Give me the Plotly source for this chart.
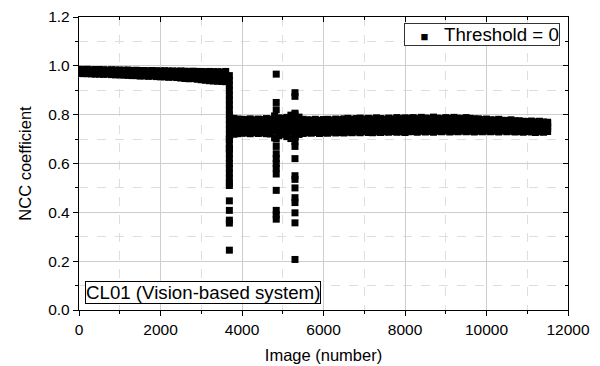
import plotly.graph_objects as go

# ---------------- data ----------------
# Segment 1: images 0..3600 (step 100), NCC band before the change
band1_x = list(range(0, 3700, 100))
band1_hi = [0.986, 0.985, 0.986, 0.984, 0.985, 0.985, 0.984, 0.983, 0.984, 0.983,
            0.983, 0.982, 0.983, 0.981, 0.982, 0.981, 0.981, 0.980, 0.981, 0.980,
            0.979, 0.980, 0.979, 0.979, 0.978, 0.979, 0.978, 0.977, 0.978, 0.977,
            0.977, 0.976, 0.977, 0.976, 0.976, 0.975, 0.977]
band1_mid = [0.978, 0.977, 0.977, 0.976, 0.976, 0.976, 0.975, 0.975, 0.974, 0.974,
             0.973, 0.973, 0.972, 0.971, 0.971, 0.970, 0.970, 0.969, 0.969, 0.968,
             0.968, 0.967, 0.967, 0.966, 0.966, 0.965, 0.964, 0.963, 0.963, 0.962,
             0.961, 0.960, 0.959, 0.958, 0.958, 0.957, 0.957]
band1_lo = [0.969, 0.968, 0.968, 0.967, 0.966, 0.966, 0.965, 0.966, 0.964, 0.963,
            0.963, 0.962, 0.961, 0.960, 0.960, 0.958, 0.959, 0.957, 0.958, 0.956,
            0.955, 0.955, 0.953, 0.954, 0.952, 0.950, 0.948, 0.947, 0.948, 0.945,
            0.943, 0.941, 0.939, 0.938, 0.937, 0.936, 0.935]

# Segment 2: images 3700..11500 (step 100)
band2_x = list(range(3700, 11600, 100))
band2_hi = [0.788, 0.785, 0.782, 0.781,
            0.780, 0.783, 0.779, 0.782, 0.780, 0.784, 0.782,
            0.795, 0.787, 0.785, 0.789, 0.798, 0.806, 0.790,
            0.781, 0.779, 0.778, 0.781, 0.777, 0.780, 0.781, 0.778, 0.782, 0.780,
            0.783, 0.785, 0.781, 0.784, 0.786, 0.782, 0.785, 0.783, 0.787, 0.784,
            0.782, 0.786, 0.783, 0.788, 0.784, 0.787,
            0.785, 0.788, 0.784, 0.789, 0.786, 0.785, 0.790, 0.786, 0.784, 0.788,
            0.785, 0.789, 0.786, 0.784, 0.788, 0.785, 0.783,
            0.783, 0.780, 0.782, 0.779, 0.778, 0.781, 0.777, 0.776, 0.779, 0.775,
            0.775, 0.773, 0.772, 0.774, 0.771, 0.773, 0.770, 0.769]
band2_q1 = [0.770, 0.772, 0.769, 0.771,
            0.768, 0.770, 0.769, 0.771, 0.768, 0.770, 0.769,
            0.772, 0.770, 0.768, 0.771, 0.773, 0.775, 0.770,
            0.768, 0.767, 0.766, 0.768, 0.765, 0.767, 0.768, 0.766, 0.769, 0.767,
            0.770, 0.769, 0.771, 0.770, 0.772, 0.770, 0.771, 0.769, 0.772, 0.771,
            0.770, 0.772, 0.771, 0.773, 0.771, 0.772,
            0.773, 0.771, 0.774, 0.772, 0.773, 0.775, 0.772, 0.774, 0.773, 0.775,
            0.772, 0.774, 0.773, 0.775, 0.774, 0.772, 0.773,
            0.772, 0.773, 0.770, 0.772, 0.771, 0.769, 0.771, 0.770, 0.768, 0.770,
            0.769, 0.767, 0.768, 0.767, 0.766, 0.766, 0.765, 0.764]
band2_mid = [0.752, 0.756, 0.754, 0.755,
             0.753, 0.755, 0.754, 0.756, 0.753, 0.755, 0.754,
             0.752, 0.756, 0.753, 0.755, 0.752, 0.757, 0.754,
             0.753, 0.755, 0.752, 0.754, 0.753, 0.755, 0.754, 0.752, 0.755, 0.754,
             0.756, 0.754, 0.757, 0.755, 0.758, 0.756, 0.757, 0.755, 0.758, 0.757,
             0.756, 0.758, 0.757, 0.759, 0.757, 0.758,
             0.759, 0.757, 0.760, 0.758, 0.759, 0.761, 0.758, 0.760, 0.759, 0.761,
             0.758, 0.760, 0.759, 0.761, 0.760, 0.758, 0.759,
             0.758, 0.760, 0.757, 0.759, 0.758, 0.756, 0.758, 0.757, 0.755, 0.757,
             0.756, 0.754, 0.756, 0.755, 0.753, 0.754, 0.753, 0.752]
band2_q3 = [0.735, 0.738, 0.739, 0.740,
            0.740, 0.738, 0.741, 0.739, 0.740, 0.738, 0.738,
            0.733, 0.736, 0.738, 0.735, 0.731, 0.734, 0.738,
            0.739, 0.741, 0.739, 0.742, 0.739, 0.741, 0.740, 0.742, 0.740, 0.741,
            0.741, 0.742, 0.741, 0.743, 0.741, 0.744, 0.742, 0.741, 0.743, 0.742,
            0.743, 0.742, 0.744, 0.742, 0.743, 0.742,
            0.744, 0.745, 0.743, 0.746, 0.744, 0.745, 0.743, 0.746, 0.744, 0.746,
            0.744, 0.746, 0.745, 0.746, 0.744, 0.745, 0.744,
            0.745, 0.744, 0.746, 0.744, 0.745, 0.743, 0.746, 0.744, 0.745, 0.743,
            0.744, 0.742, 0.744, 0.743, 0.741, 0.743, 0.742, 0.743]
band2_lo = [0.716, 0.720, 0.722, 0.724,
            0.725, 0.722, 0.726, 0.723, 0.725, 0.722, 0.721,
            0.705, 0.714, 0.718, 0.710, 0.702, 0.708, 0.719,
            0.723, 0.726, 0.724, 0.727, 0.723, 0.726, 0.724, 0.728, 0.725, 0.727,
            0.725, 0.728, 0.726, 0.729, 0.726, 0.730, 0.727, 0.726, 0.729, 0.727,
            0.730, 0.728, 0.731, 0.728, 0.730, 0.727,
            0.730, 0.731, 0.728, 0.732, 0.729, 0.731, 0.728, 0.732, 0.730, 0.733,
            0.729, 0.732, 0.730, 0.733, 0.730, 0.732, 0.729,
            0.732, 0.730, 0.733, 0.730, 0.732, 0.729, 0.733, 0.730, 0.732, 0.729,
            0.731, 0.728, 0.731, 0.729, 0.727, 0.730, 0.728, 0.731]

# Transition drop near image 3700
drop_x = [3690] * 31
drop_y = [0.96, 0.94, 0.92, 0.90, 0.88, 0.86, 0.84, 0.82, 0.80, 0.78,
          0.76, 0.74, 0.72, 0.70, 0.68, 0.66, 0.64, 0.62, 0.60, 0.58,
          0.56, 0.54, 0.52, 0.51, 0.447, 0.408, 0.368, 0.356, 0.245, 0.70, 0.66]

# Outlier spike near image 4840
spike1_x = [4840] * 14
spike1_y = [0.966, 0.85, 0.82, 0.70, 0.67, 0.64, 0.62, 0.60, 0.58, 0.557,
            0.49, 0.408, 0.39, 0.372]

# Outlier spike near image 5300
spike2_x = [5300] * 15
spike2_y = [0.89, 0.875, 0.80, 0.69, 0.67, 0.62, 0.55, 0.535, 0.50, 0.46,
            0.44, 0.398, 0.357, 0.207, 0.71]

x_ticks = [0, 2000, 4000, 6000, 8000, 10000, 12000]
x_minor = [1000, 3000, 5000, 7000, 9000, 11000]
y_ticks = [0.0, 0.2, 0.4, 0.6, 0.8, 1.0, 1.2]
y_minor = [0.1, 0.3, 0.5, 0.7, 0.9, 1.1]

series_name = "Threshold = 0"
annotation_text = "CL01 (Vision-based system)"
x_title = "Image (number)"
y_title = "NCC coefficient"

# ---------------- assemble ----------------
for a in (band1_hi, band1_mid, band1_lo):
    assert len(a) == len(band1_x)
for a in (band2_hi, band2_q1, band2_mid, band2_q3, band2_lo):
    assert len(a) == len(band2_x)

xs, ys = [], []
for row in (band1_hi, band1_mid, band1_lo):
    xs += band1_x
    ys += row
for row in (band2_hi, band2_q1, band2_mid, band2_q3, band2_lo):
    xs += band2_x
    ys += row
xs += drop_x + spike1_x + spike2_x
ys += drop_y + spike1_y + spike2_y

FONT = "Liberation Sans, Arial, sans-serif"

fig = go.Figure()
fig.add_trace(go.Scatter(
    x=xs, y=ys, mode="markers", name=series_name, showlegend=False,
    marker=dict(symbol="square", size=7, color="black", line=dict(width=0)),
))
# empty trace to host the mirrored top/right axes
fig.add_trace(go.Scatter(x=[], y=[], xaxis="x2", yaxis="y2", showlegend=False,
                         hoverinfo="skip"))

grid_major = "#cdcdcd"
grid_minor = "#dedede"

fig.update_layout(
    width=600, height=366,
    margin=dict(l=79, r=32, t=17, b=56, autoexpand=False),
    paper_bgcolor="white", plot_bgcolor="white",
    font=dict(family=FONT, color="black", size=15.5),
    showlegend=False,
    xaxis=dict(
        range=[0, 12000], tickvals=x_ticks, ticktext=[str(v) for v in x_ticks],
        automargin=False,
        showgrid=True, gridcolor=grid_major, gridwidth=1,
        ticks="outside", ticklen=5, tickwidth=1, tickcolor="black",
        showline=True, linecolor="black", linewidth=1.3, mirror=True,
        zeroline=False,
        minor=dict(tickmode="array", tickvals=x_minor, showgrid=True,
                   gridcolor=grid_minor, griddash="dash", ticks="outside",
                   ticklen=3, tickcolor="black"),
        title=dict(text=x_title, font=dict(size=16.5), standoff=12),
        tickfont=dict(size=15.5),
    ),
    yaxis=dict(
        range=[0, 1.2], tickvals=y_ticks, ticktext=[f"{v:.1f}" for v in y_ticks],
        automargin=False,
        showgrid=True, gridcolor=grid_major, gridwidth=1,
        ticks="outside", ticklen=5, tickwidth=1, tickcolor="black",
        showline=True, linecolor="black", linewidth=1.3, mirror=True,
        zeroline=False,
        minor=dict(tickmode="array", tickvals=y_minor, showgrid=True,
                   gridcolor=grid_minor, griddash="dash", ticks="outside",
                   ticklen=3, tickcolor="black"),
        title=dict(text=y_title, font=dict(size=16.5), standoff=12),
        tickfont=dict(size=15.5),
    ),
    xaxis2=dict(
        overlaying="x", side="top", anchor="y", matches="x", range=[0, 12000],
        automargin=False,
        tickvals=x_ticks, showticklabels=False, showgrid=False, zeroline=False,
        ticks="inside", ticklen=5, tickcolor="black",
        minor=dict(tickmode="array", tickvals=x_minor, ticks="inside", ticklen=3,
                   tickcolor="black", showgrid=False),
    ),
    yaxis2=dict(
        overlaying="y", side="right", anchor="x", matches="y", range=[0, 1.2],
        automargin=False,
        tickvals=y_ticks, showticklabels=False, showgrid=False, zeroline=False,
        ticks="inside", ticklen=5, tickcolor="black",
        minor=dict(tickmode="array", tickvals=y_minor, ticks="inside", ticklen=3,
                   tickcolor="black", showgrid=False),
    ),
    annotations=[
        dict(
            text=annotation_text, xref="paper", yref="paper",
            x=0.012, y=0.02, xanchor="left", yanchor="bottom",
            showarrow=False, font=dict(size=18.7, family=FONT, color="black"),
            bordercolor="black", borderwidth=1, borderpad=0, bgcolor="white",
        ),
        # legend box
        dict(
            text='&nbsp;&nbsp;&nbsp;<span style="font-size:13px">■</span>&nbsp;&nbsp;&nbsp;'
                 + series_name,
            xref="paper", yref="paper",
            x=0.984, y=0.978, xanchor="right", yanchor="top",
            showarrow=False, font=dict(size=18.7, family=FONT, color="black"),
            bordercolor="#333", borderwidth=1, borderpad=0, bgcolor="white",
        ),
    ],
)

fig.write_html("out.html")
